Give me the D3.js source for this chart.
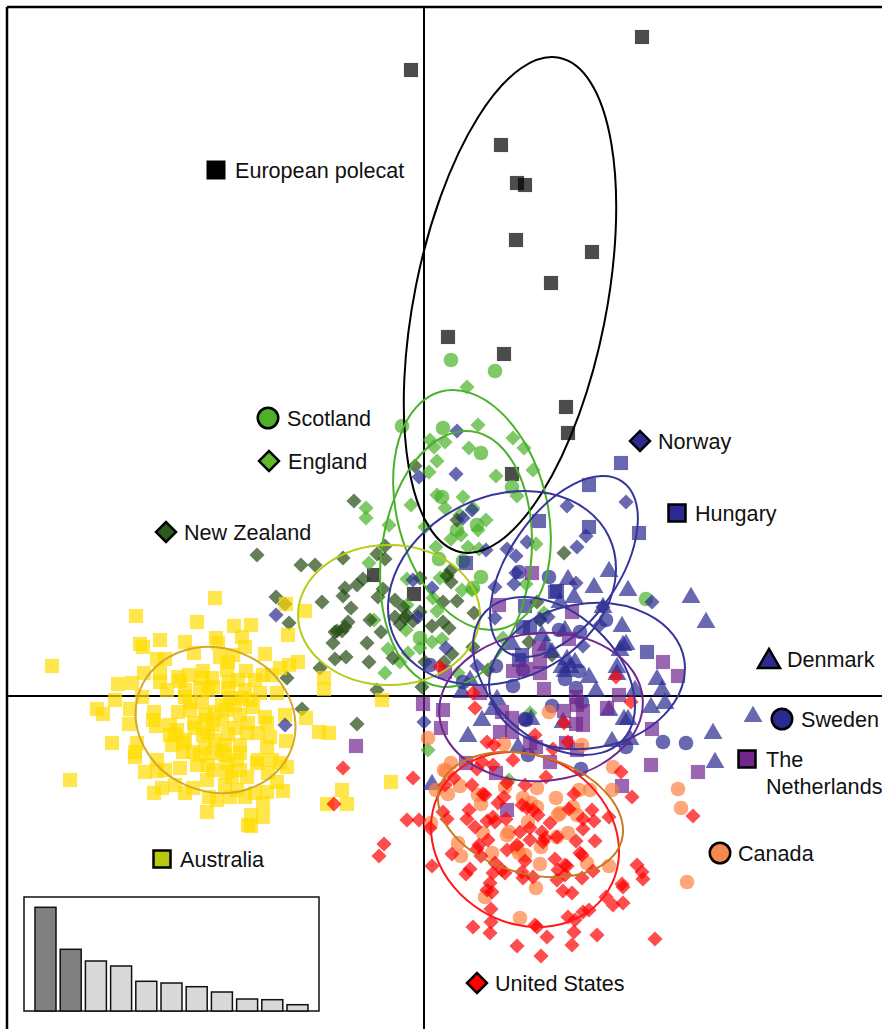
<!DOCTYPE html>
<html>
<head>
<meta charset="utf-8">
<script src="https://cdnjs.cloudflare.com/ajax/libs/d3/7.8.5/d3.min.js"></script>
<style>
body { margin: 0; background: #fff; }
text { font-family: "Liberation Sans", Arial, sans-serif; font-size: 21.6px; fill: #111; }
</style>
</head>
<body>
<div id="base"></div>
<script>
// scores on the two plotted axes
const australia = [[-372,30],[-288,80],[-209,98],[-227,74],[-190,70],[-173,71],[-284,52],[-281,49],[-264,56],[-239,54],[-208,58],[-206,53],[-182,59],[-179,49],[-159,42],[-230,43],[-267,37],[-259,37],[-204,39],[-191,41],[-196,34],[-126,34],[-135,31],[-144,28],[-178,25],[-197,26],[-280,23],[-264,23],[-246,19],[-235,21],[-221,25],[-222,18],[-212,18],[-244,15],[-306,12],[-292,13],[-264,14],[-257,6],[-224,8],[-211,9],[-195,14],[-196,8],[-179,6],[-169,16],[-161,21],[-152,21],[-164,3],[-147,3],[-100,18],[-100,7],[-309,-4],[-282,-1],[-239,-1],[-222,-6],[-194,-2],[-182,-2],[-327,-13],[-321,-18],[-294,-13],[-270,-16],[-246,-16],[-202,-9],[-171,-11],[-139,-19],[-118,-22],[-105,-36],[-95,-37],[-295,-28],[-271,-24],[-268,-30],[-254,-29],[-247,-34],[-230,-27],[-217,-24],[-211,-29],[-197,-14],[-184,-19],[-176,-27],[-159,-21],[-157,-27],[-229,-32],[-216,-37],[-196,-38],[-177,-37],[-166,-37],[-154,-41],[-312,-47],[-287,-47],[-241,-47],[-184,-49],[-138,-45],[-289,-56],[-289,-61],[-157,-51],[-241,-56],[-231,-56],[-212,-57],[-202,-54],[-184,-57],[-166,-64],[-152,-64],[-267,-64],[-167,-67],[-137,-71],[-144,-67],[-279,-76],[-267,-75],[-259,-74],[-244,-72],[-227,-69],[-216,-69],[-197,-67],[-187,-64],[-197,-76],[-192,-81],[-177,-81],[-156,-77],[-147,-86],[-217,-84],[-141,-95],[-270,-97],[-262,-92],[-249,-89],[-239,-97],[-231,-92],[-187,-94],[-157,-96],[-215,-101],[-207,-104],[-194,-101],[-179,-101],[-169,-97],[-161,-107],[-217,-116],[-173,-119],[-161,-121],[-176,-129],[-173,-130],[-354,-84],[-42,-4],[-33,-86],[-82,-94],[-97,-108],[-77,-108],[-138,92],[-119,85],[-136,61],[-249,-39],[-239,-44],[-221,-39],[-209,-44],[-224,-59],[-199,-59],[-219,-19],[-209,-16],[-202,-24],[-189,-9],[-189,-32],[-174,-4],[-234,-14],[-254,-39],[-252,-49],[-234,-6],[-216,6],[-239,6],[-186,16],[-199,-49],[-219,-52],[-184,-74],[-199,-89],[-211,-74]];
const polecat = [[-13,626],[218,659],[77,551],[93,513],[101,511],[92,456],[168,444],[127,413],[24,359],[80,342],[142,289],[144,263],[88,222],[-50,121],[-10,102]];
const scotland = [[27,336],[71,325],[-22,270],[19,268],[57,243],[88,209],[18,199],[53,171],[33,166],[15,137],[39,135],[57,119],[49,108],[-4,58],[222,97]];
const england = [[43,309],[54,271],[89,258],[100,248],[6,256],[10,249],[21,254],[45,248],[13,235],[5,224],[72,220],[109,226],[13,201],[39,199],[93,200],[-13,191],[21,188],[-58,188],[-58,178],[36,181],[49,188],[62,176],[-35,171],[1,169],[27,157],[37,161],[54,166],[12,149],[44,149],[55,147],[112,152],[-55,133],[-17,117],[16,118],[23,121],[38,106],[48,106],[9,98],[13,85],[-17,91],[-50,76],[-18,66],[-36,47],[-16,43],[8,54],[18,57],[-4,48],[-24,34],[-39,23],[34,23],[102,112],[79,58],[120,83],[4,-54],[85,-84],[106,-17]];
const newZealand = [[-9,230],[-70,195],[33,176],[-167,141],[-123,131],[-109,131],[-81,138],[-39,150],[-47,142],[-39,137],[27,126],[23,120],[27,114],[-61,117],[-67,111],[-79,108],[-81,100],[-41,107],[-46,99],[-148,99],[-139,92],[-102,94],[-73,88],[-29,96],[19,94],[33,95],[-4,118],[50,83],[-135,73],[-76,74],[-79,69],[-87,65],[-82,65],[-91,53],[-89,64],[-57,53],[-43,64],[-54,76],[-29,79],[-21,89],[-17,81],[-11,75],[-4,84],[-24,72],[-19,78],[8,70],[19,74],[25,68],[-89,37],[-78,39],[-55,34],[-31,38],[-104,28],[-137,18],[28,42],[-47,6],[-2,9],[1,34],[20,34],[-122,-13],[-67,-28],[140,143],[113,94],[105,54],[116,76],[49,49],[64,26],[128,41]];
const norway = [[33,265],[-5,219],[32,222],[48,186],[39,178],[62,146],[83,147],[92,140],[103,154],[92,123],[90,112],[71,109],[-11,116],[8,108],[-6,79],[-148,81],[22,48],[71,78],[116,77],[143,190],[202,194],[162,160],[153,149],[152,113],[124,79],[159,50],[179,89],[228,94],[53,30],[-139,-29],[0,-26],[176,71]];
const hungary = [[197,233],[165,211],[115,175],[165,169],[215,163],[131,104],[133,105],[42,133],[101,90],[99,69],[106,68],[98,41],[95,36],[223,44]];
const denmark = [[185,127],[204,108],[170,111],[144,119],[150,101],[136,96],[267,101],[282,76],[179,91],[198,72],[202,54],[196,48],[141,68],[118,63],[88,54],[122,53],[128,46],[143,39],[151,36],[138,31],[141,27],[193,31],[193,24],[165,21],[233,19],[238,8],[172,7],[211,8],[227,-9],[241,-5],[73,-1],[69,-11],[58,-22],[185,-12],[200,-21],[204,-21],[107,-21],[139,-24],[44,-38],[188,-43],[206,-41],[94,-49],[289,-35],[291,-64],[329,-18],[8,-86],[146,31],[46,18],[38,6],[199,53]];
const sweden = [[95,124],[125,119],[182,76],[135,66],[156,64],[72,30],[99,26],[141,17],[155,25],[89,10],[152,8],[158,-6],[128,-10],[102,-24],[239,-46],[262,-47],[202,-51],[6,31],[39,14],[104,-59],[157,-73],[101,-23]];
const netherlands = [[108,123],[75,91],[148,84],[145,57],[115,48],[116,34],[89,25],[102,27],[116,23],[120,7],[239,34],[254,20],[195,1],[152,-1],[183,-12],[140,-15],[159,-15],[78,-16],[88,-22],[152,-28],[159,-29],[76,-36],[88,-36],[228,-33],[56,3],[142,-47],[153,-54],[21,24],[19,-14],[17,-32],[-1,-8],[-68,-50],[227,-69],[274,-76],[198,-90],[83,-114],[72,-77],[42,-67],[126,-66],[112,-51],[106,-47],[153,-9]];
const canada = [[4,-42],[80,-48],[158,-49],[125,-16],[27,-67],[20,-74],[22,-75],[189,-71],[36,-90],[24,-98],[12,-94],[54,-99],[57,-108],[81,-91],[113,-92],[99,-102],[107,-107],[113,-111],[132,-102],[155,-94],[166,-94],[188,-94],[254,-93],[257,-112],[149,-111],[136,-117],[134,-119],[153,-119],[7,-127],[104,-126],[59,-137],[85,-136],[83,-139],[144,-137],[133,-141],[34,-147],[37,-160],[68,-157],[93,-152],[95,-157],[101,-159],[117,-151],[116,-168],[163,-167],[185,-170],[112,-192],[61,-201],[96,-222],[263,-186]];
const unitedStates = [[-81,-72],[-11,-82],[-17,-124],[-5,-124],[-40,-148],[-45,-160],[-90,-108],[8,-170],[6,-132],[63,-46],[70,-49],[111,-39],[129,-53],[144,-46],[89,-64],[69,-69],[58,-66],[53,-73],[21,-89],[30,-82],[48,-89],[83,-87],[101,-89],[122,-81],[197,-76],[208,-101],[269,-120],[150,-98],[59,-98],[61,-99],[80,-101],[74,-107],[98,-109],[103,-112],[109,-114],[114,-119],[145,-113],[168,-114],[170,-125],[159,-123],[185,-121],[45,-114],[19,-116],[23,-123],[43,-123],[69,-121],[63,-125],[71,-126],[82,-123],[51,-131],[126,-127],[106,-132],[96,-136],[118,-136],[159,-133],[64,-144],[55,-149],[53,-153],[106,-144],[121,-142],[119,-146],[133,-141],[152,-145],[171,-145],[83,-154],[28,-158],[57,-160],[93,-149],[158,-159],[156,-157],[131,-163],[101,-165],[141,-169],[143,-170],[71,-167],[78,-174],[81,-177],[46,-173],[42,-178],[69,-177],[98,-176],[99,-182],[109,-181],[133,-184],[134,-174],[158,-182],[169,-175],[141,-179],[213,-169],[218,-176],[219,-183],[198,-188],[199,-191],[66,-187],[63,-194],[68,-196],[139,-195],[148,-197],[182,-201],[189,-209],[199,-207],[67,-213],[67,-226],[49,-231],[66,-237],[111,-229],[113,-231],[144,-221],[151,-224],[159,-216],[165,-214],[150,-236],[123,-241],[173,-239],[93,-250],[148,-249],[117,-260],[231,-243],[51,-12],[49,3],[192,19],[207,-6],[140,-27],[16,29]];

// inset: relative size of the eigenvalues
const eigenIndex = [1,2,3,4,5,6,7,8,9,10,11];
const eigenValues = [103.7,61.7,50,45,29.7,28,24.3,19,12,11.3,6.3];
const eigenKept = 2;

// 95% inertia ellipses: [centre x, centre y, semi axis 1, semi axis 2, rotation in degrees]
const ellipses = [
  ["#000000", [86,391,96,252,11.25]],
  ["#4ab22a", [48,186,75,122.4,-14.6]],
  ["#4ab22a", [32,137,75,128.6,6.8]],
  ["#b5cc18", [-35,81,91,70,0]],
  ["#d4a828", [-208.5,-24,71.6,81.3,-68]],
  ["#35359a", [140,129.5,55,103,34.5]],
  ["#35359a", [78,108,91.3,118.6,64.4]],
  ["#35359a", [163,20,72.2,98.6,80.5]],
  ["#35359a", [130,20,63,94,-46.9]],
  ["#6f278e", [117,-11,102,74,-5]],
  ["#ff1a1a", [101,-143.5,83.5,97.6,-58.7]],
  ["#c87820", [106.5,-118.5,59,94.8,-73.8]]
];

// draw order, fill, marker
const series = [
  {values: polecat, shape: "square", color: "#000000"},
  {values: scotland, shape: "circle", color: "#4ab22a"},
  {values: england, shape: "diamond", color: "#4ab22a"},
  {values: newZealand, shape: "diamond", color: "#244a13"},
  {values: australia, shape: "square", color: "#ffdb00"},
  {values: norway, shape: "diamond", color: "#2a2a91"},
  {values: hungary, shape: "square", color: "#2a2a91"},
  {values: denmark, shape: "triangle", color: "#2a2a91"},
  {values: sweden, shape: "circle", color: "#2a2a91"},
  {values: netherlands, shape: "square", color: "#6f278e"},
  {values: canada, shape: "circle", color: "#ff8041"},
  {values: unitedStates, shape: "diamond", color: "#ff0000"}
];

const legendNames = [["European polecat"],["Scotland"],["England"],["New Zealand"],["Norway"],["Hungary"],["Denmark"],["Sweden"],["The","Netherlands"],["Canada"],["Australia"],["United States"]];
const legendShapes = ["square","circle","diamond","diamond","diamond","square","triangle","circle","square","circle","square","diamond"];
const legendColors = ["#000000","#4eaf28","#62b82c","#2a5a20","#2a2a91","#2a2a91","#2a2a91","#2a2a91","#6f278e","#f58a50","#b8c80c","#ff0000"];
// marker x, marker y, label x
const legendLayout = [[216,170,235],[268,418,287],[269,461,288],[166,532,184],[640,441,658],[677,513,695],[769,659,787],[782,719,801],[747,759,766],[720,853,738],[162,859,180],[477,983,495]];

const width = 882, height = 1029;
const left = 7, top_ = 7;

const x = d3.scaleLinear().domain([-417, 458]).range([left, width]);
const y = d3.scaleLinear().domain([689, -333]).range([top_, height]);

const svg = d3.select("#base").append("svg")
    .attr("width", width)
    .attr("height", height)
    .style("display", "block");

const symbols = {
  square: d3.symbol(d3.symbolSquare, 200)(),
  circle: d3.symbol(d3.symbolCircle, 168)(),
  diamond: d3.symbol(d3.symbolSquare, 115)(),
  triangle: d3.symbol(d3.symbolTriangle, 155)()
};

function place(shape, px, py) {
  if (shape === "diamond") return `translate(${px},${py}) rotate(45)`;
  if (shape === "triangle") return `translate(${px},${py + 2.6})`;
  return `translate(${px},${py})`;
}

// frame and zero lines
svg.append("g")
    .attr("stroke", "#000")
  .selectAll("line")
  .data([
    [left, top_, width, top_, 2.5],
    [left, top_, left, height, 2.5],
    [x(0), top_, x(0), height, 2],
    [left, y(0), width, y(0), 1.8]
  ])
  .join("line")
    .attr("x1", d => d[0])
    .attr("y1", d => d[1])
    .attr("x2", d => d[2])
    .attr("y2", d => d[3])
    .attr("stroke-width", d => d[4]);

// points
series.forEach(s => {
  svg.append("g")
      .attr("fill", s.color)
      .attr("fill-opacity", 0.7)
    .selectAll("path")
    .data(s.values)
    .join("path")
      .attr("d", symbols[s.shape])
      .attr("transform", d => place(s.shape, x(d[0]), y(d[1])));
});

// ellipses
svg.append("g")
    .attr("fill", "none")
    .attr("stroke-width", 2)
  .selectAll("ellipse")
  .data(ellipses)
  .join("ellipse")
    .attr("stroke", d => d[0])
    .attr("rx", d => x(d[1][2]) - x(0))
    .attr("ry", d => y(0) - y(d[1][3]))
    .attr("transform", d => `translate(${x(d[1][0])},${y(d[1][1])}) rotate(${d[1][4]})`);

// legend
const legend = svg.append("g")
  .selectAll("g")
  .data(legendNames)
  .join("g");

legend.append("path")
    .attr("d", (d, i) => {
      const s = legendShapes[i];
      if (s === "square") return i === 0 ? d3.symbol(d3.symbolSquare, 361)() : d3.symbol(d3.symbolSquare, 289)();
      if (s === "circle") return d3.symbol(d3.symbolCircle, 330)();
      if (s === "diamond") return d3.symbol(d3.symbolSquare, 200)();
      return d3.symbol(d3.symbolTriangle, 210)();
    })
    .attr("transform", (d, i) => place(legendShapes[i], legendLayout[i][0], legendLayout[i][1]))
    .attr("fill", (d, i) => legendColors[i])
    .attr("stroke", "#000")
    .attr("stroke-width", (d, i) => i === 0 ? 0 : 2.5);

legend.append("text")
    .attr("y", (d, i) => legendLayout[i][1] + 8)
  .selectAll("tspan")
  .data((d, i) => d.map(t => ({t, lx: legendLayout[i][2]})))
  .join("tspan")
    .attr("x", d => d.lx)
    .attr("dy", (d, i) => i === 0 ? 0 : 26.7)
    .text(d => d.t);

// eigenvalue inset
const inset = svg.append("g");
const barX = d3.scaleBand().domain(eigenIndex).range([35, 308]).paddingInner(0.167);
const barY = d3.scaleLinear().domain([0, 115]).range([1011, 896]);

inset.append("rect")
    .attr("x", 24)
    .attr("y", 897)
    .attr("width", 295)
    .attr("height", 114)
    .attr("fill", "#fff")
    .attr("stroke", "#111")
    .attr("stroke-width", 1.5);

inset.selectAll(".bar")
  .data(eigenValues)
  .join("rect")
    .attr("class", "bar")
    .attr("x", (d, i) => barX(eigenIndex[i]))
    .attr("y", d => barY(d))
    .attr("width", barX.bandwidth())
    .attr("height", d => barY(0) - barY(d))
    .attr("fill", (d, i) => i < eigenKept ? "#808080" : "#d9d9d9")
    .attr("stroke", "#111")
    .attr("stroke-width", 1.5);
</script>
</body>
</html>
